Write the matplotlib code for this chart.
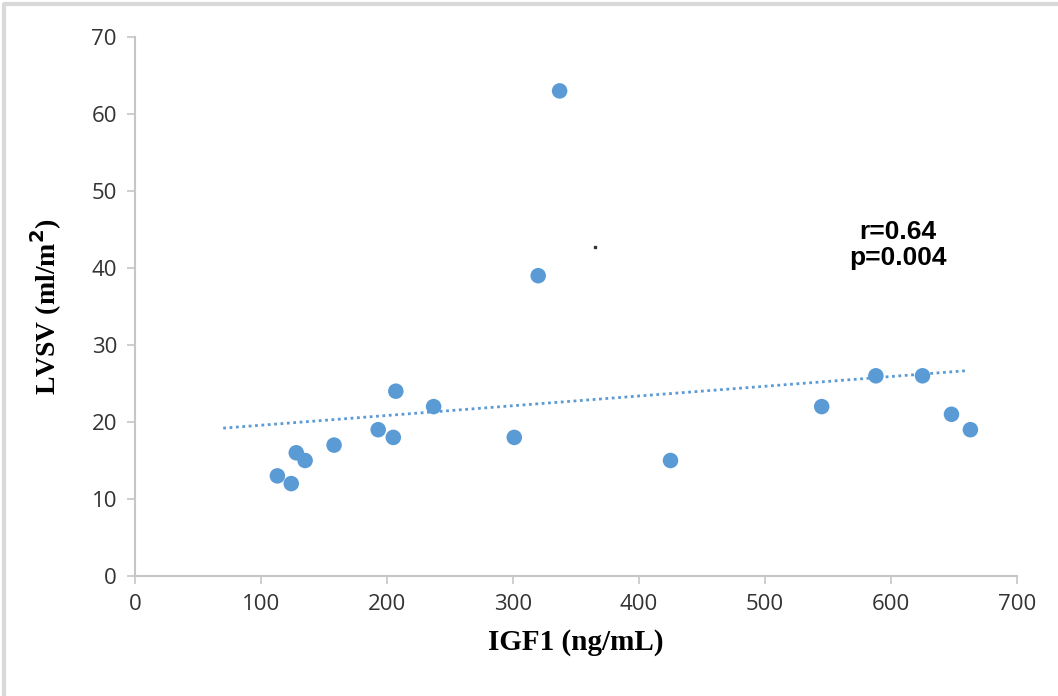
import numpy as np
import matplotlib
matplotlib.use('Agg')
import matplotlib.pyplot as plt
from matplotlib.lines import Line2D

# --- datos ---
igf1 = [113, 124, 128, 135, 158, 193, 205, 207, 237, 301, 320, 337, 425, 545, 588, 625, 648, 663]
lvsv = [13, 12, 16, 15, 17, 19, 18, 24, 22, 18, 39, 63, 15, 22, 26, 26, 21, 19]
trend_x = [70, 660]
x_ticks = [0, 100, 200, 300, 400, 500, 600, 700]
y_ticks = [0, 10, 20, 30, 40, 50, 60, 70]
stats_text = 'r=0.64\np=0.004'

AXIS_GREY = '#c6c6c6'
DOT_BLUE = '#5b9bd5'

fig = plt.figure(figsize=(10.58, 6.96), dpi=100)
ax = fig.add_axes([135 / 1058, 1 - 576 / 696, (1017 - 135) / 1058, (576 - 37) / 696])

# marco gris de la imagen (solo arriba e izquierda)
fig.lines.append(Line2D([0.004, 0.004, 1.0], [0.0, 0.994, 0.994], transform=fig.transFigure,
                        color='#d9d9d9', linewidth=3))

ax.scatter(igf1, lvsv, s=125, color=DOT_BLUE, edgecolors='none', zorder=3)

# linea de tendencia (ajuste lineal)
m, b = np.polyfit(igf1, lvsv, 1)
tx = np.array(trend_x)
ax.plot(tx, m * tx + b, linestyle=(0, (1, 1.3)), color=DOT_BLUE, linewidth=2.0, zorder=2)

ax.set_xlim(0, 700)
ax.set_ylim(0, 70)
ax.set_xticks(x_ticks)
ax.set_yticks(y_ticks)

for s in ['top', 'right']:
    ax.spines[s].set_visible(False)
for s in ['left', 'bottom']:
    ax.spines[s].set_color(AXIS_GREY)
    ax.spines[s].set_linewidth(1.5)

ax.tick_params(direction='out', length=6, width=1.2, color=AXIS_GREY,
               labelsize=16, labelcolor='#333333', pad=7)
for lab in ax.get_xticklabels() + ax.get_yticklabels():
    lab.set_family('Open Sans')

ax.set_xlabel('IGF1 (ng/mL)', fontsize=21, fontweight='bold', family='Liberation Serif', labelpad=10)
ax.set_ylabel('LVSV (ml/m$^\\mathbf{2}$)', fontsize=20, fontweight='bold', family='Liberation Serif', labelpad=20)

ax.text((898 - 135) / 1.26, (576 - 220) / 7.7, stats_text, ha='center', va='top', fontsize=19,
        fontweight='bold', family='Liberation Sans', linespacing=1.1)

ax.plot([365], [42.7], marker='s', markersize=1.5, color='#333333')

fig.savefig('out.png', dpi=100)
